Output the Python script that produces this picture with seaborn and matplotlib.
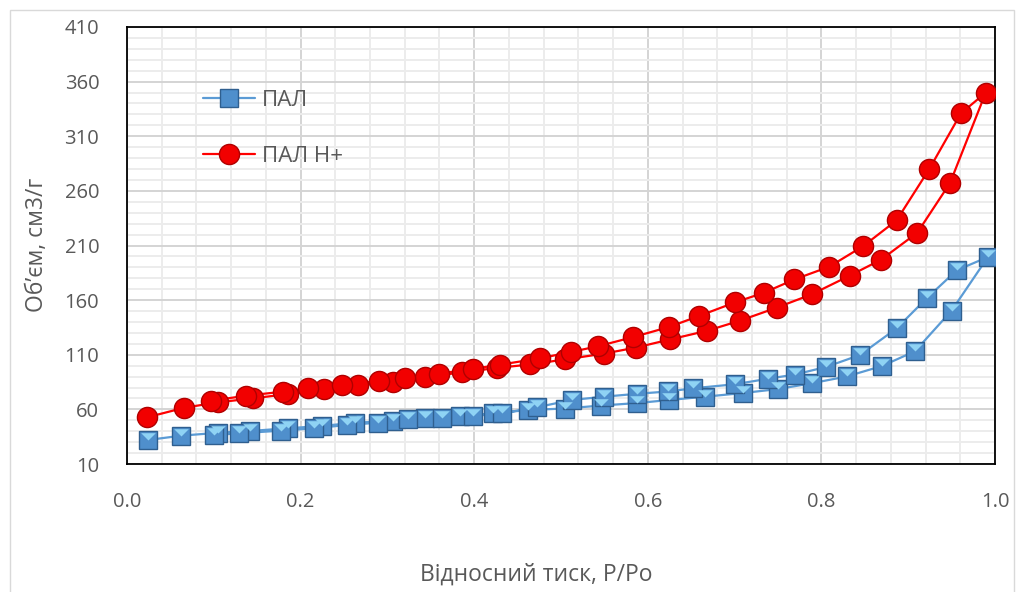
import numpy as np
import pandas as pd
import matplotlib
matplotlib.use("Agg")
import matplotlib.pyplot as plt
from matplotlib.lines import Line2D
from matplotlib.patches import Rectangle
import seaborn as sns

# ---- data (adsorption branch then desorption branch) ----
pal_x = [0.0245, 0.0622, 0.1052, 0.1417, 0.1851, 0.2243, 0.2627, 0.3068, 0.3433, 0.3836,
         0.4220, 0.4623, 0.5046, 0.5461, 0.5879, 0.6248, 0.6659, 0.7100, 0.7500, 0.7888,
         0.8291, 0.8698, 0.9078, 0.9501, 0.9919,
         0.9559, 0.9213, 0.8867, 0.8445, 0.8053, 0.7696, 0.7382, 0.7005, 0.6521, 0.6236,
         0.5881, 0.5495, 0.5123, 0.4720, 0.4317, 0.3990, 0.3626, 0.3241, 0.2895, 0.2531,
         0.2158, 0.1774, 0.1290, 0.1002]
pal_y = [32.0, 35.9, 38.6, 40.2, 42.7, 44.8, 47.8, 49.4, 51.8, 53.9,
         56.4, 59.4, 60.8, 63.5, 65.8, 68.6, 71.6, 75.0, 78.6, 83.9,
         90.1, 99.7, 113.2, 150.5, 199.5,
         187.3, 161.7, 134.2, 109.8, 98.8, 91.9, 88.0, 83.0, 79.3, 76.4,
         74.3, 71.6, 68.6, 61.9, 56.4, 53.9, 51.8, 50.9, 47.8, 45.7,
         42.7, 40.5, 38.1, 36.5]

palh_x = [0.0230, 0.0660, 0.1052, 0.1455, 0.1858, 0.2270, 0.2665, 0.3061, 0.3433, 0.3854,
          0.4259, 0.4643, 0.5046, 0.5501, 0.5864, 0.6256, 0.6685, 0.7062, 0.7485, 0.7888,
          0.8329, 0.8687, 0.9105, 0.9482, 0.9893,
          0.9608, 0.9243, 0.8867, 0.8483, 0.8091, 0.7688, 0.7339, 0.7008, 0.6590, 0.6244,
          0.5833, 0.5423, 0.5112, 0.4758, 0.4297, 0.3983, 0.3598, 0.3203, 0.2907, 0.2473,
          0.2089, 0.1797, 0.1371, 0.0968]
palh_y = [52.7, 61.5, 66.5, 70.1, 74.1, 78.4, 82.0, 84.8, 89.6, 93.8,
          97.9, 101.1, 105.7, 111.1, 116.6, 124.0, 132.0, 141.2, 153.1, 165.3,
          182.5, 197.0, 221.7, 267.2, 349.9,
          331.0, 280.0, 233.1, 209.5, 190.6, 178.9, 166.8, 158.0, 145.5, 135.4,
          126.2, 117.7, 112.5, 106.7, 100.9, 97.0, 92.8, 88.7, 86.0, 82.3,
          79.3, 76.2, 72.5, 67.9]

series_names = ["ПАЛ", "ПАЛ Н+"]
x_ticks = [0.0, 0.2, 0.4, 0.6, 0.8, 1.0]
y_ticks = [10, 60, 110, 160, 210, 260, 310, 360, 410]
x_label = "Відносний тиск, P/Po"
y_label = "Об’єм, см3/г"

# ---- styling ----
sns.set_theme(style="white")
plt.rcParams["font.family"] = ["Open Sans", "DejaVu Sans"]
TXT = "#595959"

fig = plt.figure(figsize=(10.25, 5.92), dpi=100)
ax = fig.add_axes([127 / 1025, 1 - 464 / 592, 868 / 1025, 437 / 592])

blue_face = "#4f8fcc"
blue_edge = "#2f5f8f"
blue_line = "#5b9bd5"
red_face = "#f20000"
red_edge = "#b00000"

df_a = pd.DataFrame({"x": pal_x, "y": pal_y})
df_b = pd.DataFrame({"x": palh_x, "y": palh_y})

sns.lineplot(data=df_a, x="x", y="y", sort=False, estimator=None, ax=ax,
             color=blue_line, linewidth=1.6, marker="s", markersize=13,
             markerfacecolor=blue_face, markeredgecolor=blue_edge, markeredgewidth=1.0,
             zorder=3)
# bevel highlight on the square markers
ax.plot(pal_x, pal_y, linestyle="none", marker=[(-1, 1), (1, 1), (0, 0)],
        markersize=10.5, markerfacecolor="#8fd3f4", markeredgewidth=0, zorder=3.5)

sns.lineplot(data=df_b, x="x", y="y", sort=False, estimator=None, ax=ax,
             color="#ff0000", linewidth=1.6, marker="o", markersize=14.5,
             markerfacecolor=red_face, markeredgecolor=red_edge, markeredgewidth=1.0,
             zorder=4)

ax.set_xlim(0, 1.0)
ax.set_ylim(10, 410)
ax.set_xticks(x_ticks)
ax.set_xticklabels([f"{v:.1f}" for v in x_ticks])
ax.set_yticks(y_ticks)
ax.set_yticklabels([str(v) for v in y_ticks])
ax.set_xticks(np.arange(0, 1.0001, 0.04), minor=True)
ax.set_yticks(np.arange(10, 410.1, 10), minor=True)

ax.grid(which="major", color="#d4d4d4", linewidth=1.4, zorder=0)
ax.grid(which="minor", color="#ececec", linewidth=1.4, zorder=0)
ax.set_axisbelow(True)

ax.tick_params(axis="both", which="major", direction="in", length=6, width=1.2,
               color="black", labelsize=14.5, labelcolor=TXT)
ax.tick_params(axis="x", which="major", pad=20)
ax.tick_params(axis="y", which="major", pad=20)
ax.tick_params(which="minor", length=0)

for s in ax.spines.values():
    s.set_visible(True)
    s.set_color("black")
    s.set_linewidth(1.3)

ax.set_xlabel("")
ax.set_ylabel("")
fig.text(536 / 1025, 1 - 575 / 592, x_label, ha="center", va="center",
         fontsize=16.5, color=TXT)
fig.text(37 / 1025, 1 - 245 / 592, y_label, ha="center", va="center",
         rotation=90, fontsize=16.5, color=TXT)

handles = [
    Line2D([], [], color=blue_line, linewidth=1.6, marker="s", markersize=13,
           markerfacecolor=blue_face, markeredgecolor=blue_edge),
    Line2D([], [], color="#ff0000", linewidth=1.6, marker="o", markersize=14.5,
           markerfacecolor=red_face, markeredgecolor=red_edge),
]
leg = ax.legend(handles, series_names, loc="upper left",
                bbox_to_anchor=((203 - 127) / 868, 1 - (90 - 27) / 437),
                frameon=False, fontsize=16, handlelength=2.34, handletextpad=0.31,
                labelspacing=1.58, borderpad=0, borderaxespad=0)
for t in leg.get_texts():
    t.set_color(TXT)

fig.patches.append(Rectangle((10 / 1025, -0.02), 1004 / 1025, 1 - 10 / 592 + 0.02,
                             transform=fig.transFigure, fill=False,
                             edgecolor="#d9d9d9", linewidth=1.0, zorder=0))

fig.savefig("out.png", dpi=100, facecolor="white")
